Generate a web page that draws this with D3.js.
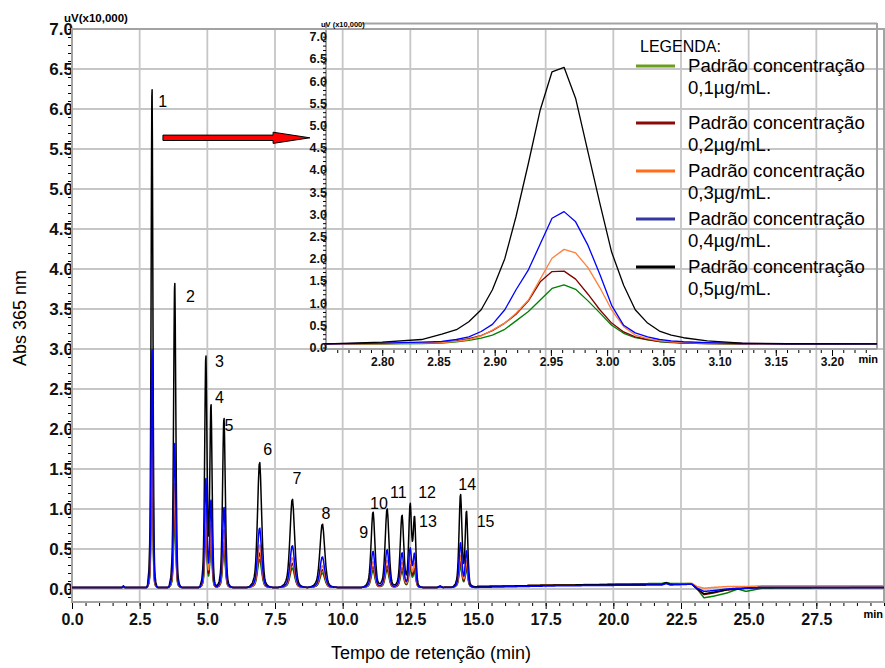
<!DOCTYPE html>
<html>
<head>
<meta charset="utf-8">
<script src="https://cdn.jsdelivr.net/npm/d3@7"></script>
<style>
  body { margin: 0; background: #fff; }
  svg { display: block; font-family: "Liberation Sans", Arial, sans-serif; }
</style>
</head>
<body>
<script>
// series order: 0,1 / 0,2 / 0,3 / 0,4 / 0,5 ug/mL
const seriesNames = ["0,1µg/mL.", "0,2µg/mL.", "0,3µg/mL.", "0,4µg/mL.", "0,5µg/mL."];
const lineColors = ["#008000", "#800000", "#ff7f3a", "#0000ff", "#000000"];
const legendColors = ["#6a9e1e", "#8a0a0a", "#ff6c1a", "#3636a6", "#000000"];
const drawOrder = [0, 1, 2, 4, 3];

// main chromatogram: peak table (min, height above baseline in uV x10,000)
const peakNames = ["1","2","3","4","5","6","7","8","9","10","11","12","13","14","15"];
const peakTimes = [2.96, 3.80, 4.95, 5.14, 5.62, 6.94, 8.15, 9.26, 11.13, 11.65, 12.20, 12.50, 12.66, 14.36, 14.58];
const peakWidths = [0.034, 0.042, 0.044, 0.044, 0.052, 0.078, 0.088, 0.092, 0.072, 0.072, 0.066, 0.055, 0.05, 0.056, 0.05];
const peakHeights = [
  [1.38, 0.84, 0.63, 0.50, 0.47, 0.35, 0.24, 0.18, 0.21, 0.22, 0.20, 0.22, 0.19, 0.25, 0.21],
  [1.68, 1.03, 0.77, 0.62, 0.57, 0.43, 0.30, 0.22, 0.26, 0.27, 0.25, 0.27, 0.23, 0.31, 0.26],
  [2.15, 1.30, 0.97, 0.78, 0.72, 0.53, 0.37, 0.27, 0.32, 0.34, 0.31, 0.34, 0.29, 0.39, 0.32],
  [2.97, 1.80, 1.34, 1.08, 1.00, 0.74, 0.52, 0.38, 0.45, 0.47, 0.43, 0.47, 0.41, 0.55, 0.45],
  [6.22, 3.80, 2.85, 2.26, 2.11, 1.56, 1.10, 0.79, 0.94, 0.98, 0.90, 1.00, 0.85, 1.14, 0.93]
];
// peak shape (offset in widths -> relative level)
const profileOffsets = [-6, -5, -3.5, -2.7, -2.33, -2, -1.67, -1.35, -1, -0.67, -0.33, 0, 0.33, 0.67, 1, 1.33, 1.67, 2, 2.33, 2.67, 3, 3.33, 4, 5, 6];
const profileLevels = [0, 0.005, 0.035, 0.083, 0.124, 0.196, 0.31, 0.46, 0.653, 0.846, 0.984, 1, 0.888, 0.693, 0.509, 0.332, 0.212, 0.124, 0.075, 0.046, 0.032, 0.022, 0.011, 0.003, 0];
// baseline drift
const baseTimes = [0, 1.85, 1.9, 1.95, 13.5, 13.6, 13.7, 15, 18, 21.8, 21.95, 22.1, 22.9, 23.1, 23.35, 23.7, 24.2, 24.6, 24.9, 25.5, 30];
const baseLevels = [
  [0.02,0.02,0.03,0.02,0.02,0.03,0.02,0.03,0.05,0.07,0.08,0.07,0.07,0.00,-0.11,-0.09,-0.05,0.00,-0.03,0.01,0.02],
  [0.02,0.02,0.03,0.02,0.02,0.03,0.02,0.03,0.05,0.06,0.07,0.06,0.06,0.00,-0.07,-0.05,-0.01,0.00,0.01,0.02,0.02],
  [0.02,0.02,0.03,0.02,0.02,0.03,0.02,0.03,0.05,0.06,0.07,0.06,0.07,0.03,0.01,0.02,0.03,0.03,0.03,0.04,0.04],
  [0.02,0.02,0.03,0.02,0.02,0.03,0.02,0.02,0.04,0.05,0.07,0.05,0.06,0.01,-0.03,-0.02,0.00,0.01,0.01,0.02,0.02],
  [0.02,0.02,0.04,0.02,0.02,0.04,0.02,0.03,0.05,0.06,0.08,0.06,0.06,0.00,-0.06,-0.04,-0.01,0.00,0.01,0.02,0.02]
];
// where the peak numbers sit (min, uV x10,000)
const labelTimes = [3.19, 4.21, 5.28, 5.28, 5.63, 7.07, 8.15, 9.22, 10.61, 11.01, 11.75, 12.79, 12.82, 14.27, 14.95];
const labelLevels = [6.02, 3.59, 2.77, 2.33, 1.97, 1.675, 1.31, 0.88, 0.64, 1.0, 1.14, 1.14, 0.78, 1.24, 0.78];

// inset: zoom on peak 1
const insetTimes = [2.75, 2.80, 2.835, 2.853, 2.866, 2.877, 2.888, 2.898, 2.909, 2.919, 2.930, 2.9405, 2.951, 2.9617, 2.972, 2.983, 2.9935, 3.004, 3.0147, 3.025, 3.036, 3.0465, 3.057, 3.068, 3.089, 3.12, 3.16, 3.24];
const insetValues = [
  [0.08,0.085,0.09,0.10,0.13,0.16,0.21,0.28,0.41,0.60,0.81,1.07,1.33,1.41,1.31,1.05,0.78,0.50,0.32,0.22,0.17,0.13,0.11,0.10,0.09,0.085,0.08,0.08],
  [0.08,0.09,0.10,0.12,0.15,0.20,0.27,0.38,0.55,0.75,1.05,1.48,1.71,1.72,1.54,1.20,0.85,0.55,0.35,0.24,0.18,0.14,0.12,0.10,0.09,0.085,0.08,0.08],
  [0.08,0.09,0.10,0.11,0.14,0.18,0.26,0.39,0.55,0.77,1.07,1.54,2.01,2.21,2.13,1.80,1.35,0.85,0.47,0.28,0.20,0.15,0.13,0.11,0.10,0.09,0.085,0.08],
  [0.08,0.10,0.12,0.14,0.18,0.24,0.36,0.52,0.85,1.30,1.75,2.33,2.91,3.06,2.83,2.30,1.65,0.95,0.50,0.33,0.24,0.18,0.15,0.13,0.11,0.09,0.085,0.08],
  [0.08,0.12,0.18,0.30,0.40,0.58,0.85,1.30,2.00,2.95,4.15,5.35,6.21,6.31,5.61,4.40,3.25,2.15,1.40,0.85,0.55,0.37,0.28,0.22,0.15,0.10,0.085,0.08]
];

const mainYTicks = d3.range(0, 7.01, 0.5);
const mainXTicks = d3.range(0, 27.6, 2.5);
const insetXTicks = [2.80, 2.85, 2.90, 2.95, 3.00, 3.05, 3.10, 3.15, 3.20];

const svg = d3.select("body").append("svg").attr("width", 885).attr("height", 668);

const x = d3.scaleLinear().domain([0, 30]).range([72, 884]);
const y = d3.scaleLinear().domain([-0.1625, 7]).range([602, 29]);

const gridColor = "#c6c6c6", axisColor = "#a3a3a3";

// grid
svg.append("g").selectAll("line").data(mainXTicks.slice(1)).join("line")
  .attr("x1", d => x(d)).attr("x2", d => x(d)).attr("y1", 29).attr("y2", 602)
  .attr("stroke", gridColor).attr("stroke-width", 1.8);
svg.append("g").selectAll("line").data(mainYTicks).join("line")
  .attr("x1", 72).attr("x2", 884).attr("y1", d => y(d)).attr("y2", d => y(d))
  .attr("stroke", gridColor).attr("stroke-width", 1.8);

// main axes
const gy = svg.append("g").attr("transform", "translate(72,0)");
gy.call(d3.axisLeft(y).tickValues(d3.range(-0.1, 7.01, 0.1)).tickSize(4).tickFormat(""));
gy.append("g").call(d3.axisLeft(y).tickValues(mainYTicks).tickSize(0).tickFormat(d3.format(".1f")))
  .call(g => g.selectAll("text").attr("x", 1).attr("font-size", 17).attr("font-weight", "bold").attr("fill", "#111"));
const gx = svg.append("g").attr("transform", "translate(0,602)");
gx.call(d3.axisBottom(x).tickValues(d3.range(0, 30.01, 0.5)).tickSize(4).tickFormat(""));
gx.append("g").call(d3.axisBottom(x).tickValues(mainXTicks).tickSize(7).tickPadding(5).tickFormat(d3.format(".1f")))
  .call(g => g.selectAll("text").attr("font-size", 16).attr("font-weight", "bold").attr("fill", "#111"));
svg.selectAll(".domain").remove();
svg.selectAll(".tick line").attr("stroke", "#000");
svg.append("rect").attr("x", 72).attr("y", 29).attr("width", 812).attr("height", 573)
  .attr("fill", "none").attr("stroke", axisColor).attr("stroke-width", 2);

svg.append("text").attr("x", 883).attr("y", 618).attr("text-anchor", "end")
  .attr("font-size", 11).attr("font-weight", "bold").text("min");
svg.append("text").attr("x", 64).attr("y", 22).attr("font-size", 11.5).attr("font-weight", "bold").text("uV(x10,000)");
svg.append("text").attr("transform", "translate(26,318) rotate(-90)").attr("text-anchor", "middle")
  .attr("font-size", 18).text("Abs 365 nm");
svg.append("text").attr("x", 431).attr("y", 659).attr("text-anchor", "middle")
  .attr("font-size", 18).text("Tempo de retenção (min)");

// main traces
const tGrid = d3.range(0, 30.0001, 0.005);
const profile = d3.scaleLinear().domain(profileOffsets).range(profileLevels).clamp(true);
const mainLine = d3.line().x(d => x(d[0])).y(d => y(d[1]));
drawOrder.forEach(s => {
  const base = d3.scaleLinear().domain(baseTimes).range(baseLevels[s]).clamp(true);
  const pts = tGrid.map(t => [t, base(t) + d3.sum(peakTimes, (pt, i) => peakHeights[s][i] * profile((t - pt) / peakWidths[i]))]);
  svg.append("path").attr("d", mainLine(pts)).attr("fill", "none")
    .attr("stroke", lineColors[s]).attr("stroke-width", 1.5).attr("stroke-linejoin", "round");
});

// peak numbers
svg.append("g").selectAll("text").data(peakNames).join("text")
  .attr("x", (d, i) => x(labelTimes[i])).attr("y", (d, i) => y(labelLevels[i]))
  .attr("font-size", 16).text(d => d);

// red arrow
const arrowTail = 3.36, arrowHeadBase = 7.43, arrowTip = 8.79, arrowLevel = 5.64;
const ay = y(arrowLevel);
svg.append("path")
  .attr("d", `M${x(arrowTail)},${ay - 2.7}L${x(arrowHeadBase)},${ay - 2.7}L${x(arrowHeadBase)},${ay - 5.6}L${x(arrowTip)},${ay}L${x(arrowHeadBase)},${ay + 5.6}L${x(arrowHeadBase)},${ay + 2.7}L${x(arrowTail)},${ay + 2.7}Z`)
  .attr("fill", "#ff0000").attr("stroke", "#000").attr("stroke-width", 1);

// inset
const xi = d3.scaleLinear().domain([2.75, 3.24]).range([326, 877]);
const yi = d3.scaleLinear().domain([0, 7]).range([347.5, 36.7]);
const inset = svg.append("g");
inset.append("line").attr("x1", 362).attr("x2", 877).attr("y1", 23.5).attr("y2", 23.5).attr("stroke", axisColor).attr("stroke-width", 2);
inset.append("line").attr("x1", 877).attr("x2", 877).attr("y1", 23).attr("y2", 349).attr("stroke", axisColor).attr("stroke-width", 2);
inset.append("line").attr("x1", 326).attr("x2", 326).attr("y1", 23).attr("y2", 349).attr("stroke", axisColor).attr("stroke-width", 2);
inset.append("line").attr("x1", 326).attr("x2", 877).attr("y1", 349).attr("y2", 349).attr("stroke", axisColor).attr("stroke-width", 2);
inset.append("text").attr("x", 321).attr("y", 27).attr("font-size", 7.5).attr("font-weight", "bold").text("uV (x10,000)");

const giy = inset.append("g").attr("transform", "translate(326,0)");
giy.call(d3.axisLeft(yi).tickValues(d3.range(0, 7.01, 0.1)).tickSize(3).tickFormat(""));
giy.append("g").call(d3.axisLeft(yi).tickValues(mainYTicks).tickSize(0).tickFormat(d3.format(".1f")))
  .call(g => g.selectAll("text").attr("x", 1).attr("font-size", 12.5).attr("font-weight", "bold").attr("fill", "#111"));
const gix = inset.append("g").attr("transform", "translate(0,350)");
gix.call(d3.axisBottom(xi).tickValues(d3.range(2.76, 3.235, 0.01)).tickSize(3).tickFormat(""));
gix.append("g").call(d3.axisBottom(xi).tickValues(insetXTicks).tickSize(6).tickPadding(1).tickFormat(d3.format(".2f")))
  .call(g => g.selectAll("text").attr("font-size", 12).attr("font-weight", "bold").attr("fill", "#111"));
inset.selectAll(".domain").remove();
inset.selectAll(".tick line").attr("stroke", "#000");
inset.append("text").attr("x", 878).attr("y", 363).attr("text-anchor", "end")
  .attr("font-size", 11).attr("font-weight", "bold").text("min");

const insetLine = d3.line().x((d, i) => xi(insetTimes[i])).y(d => yi(d));
[0, 1, 2, 3, 4].forEach(s => {
  inset.append("path").attr("d", insetLine(insetValues[s])).attr("fill", "none")
    .attr("stroke", lineColors[s]).attr("stroke-width", 1.3).attr("stroke-linejoin", "round");
});

// legend
const legendY = [66, 123, 171, 219, 267];
const legend = svg.append("g");
legend.append("text").attr("x", 640).attr("y", 52).attr("font-size", 16).text("LEGENDA:");
seriesNames.forEach((name, i) => {
  legend.append("line").attr("x1", 636).attr("x2", 675).attr("y1", legendY[i]).attr("y2", legendY[i])
    .attr("stroke", legendColors[i]).attr("stroke-width", 3);
  legend.append("text").attr("x", 688).attr("y", legendY[i] + 6).attr("font-size", 18.6).text("Padrão concentração");
  legend.append("text").attr("x", 688).attr("y", legendY[i] + 28).attr("font-size", 18.6).text(name);
});
</script>
</body>
</html>
